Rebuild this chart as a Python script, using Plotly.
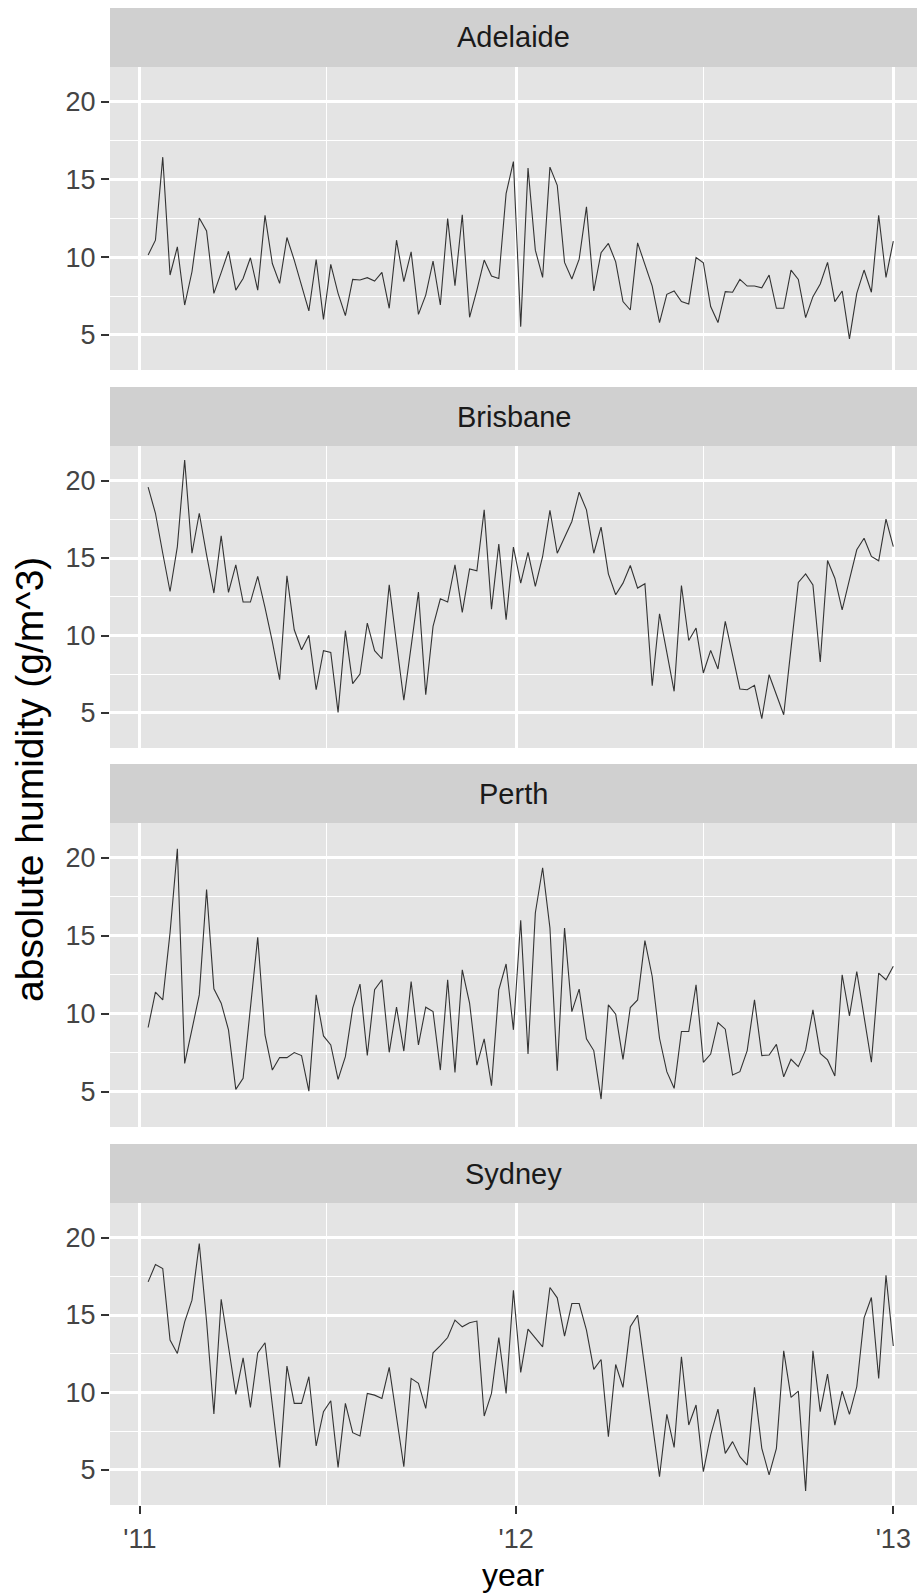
import pandas as pd
import plotly.graph_objects as go

# Weekly absolute humidity (g/m^3), 2011-2012
cities = ["Adelaide", "Brisbane", "Perth", "Sydney"]

adelaide = [10.13, 11.09, 16.43, 8.85, 10.66, 6.92, 9.06, 12.52, 11.69, 7.67,
            9.0, 10.38, 7.88, 8.63, 9.96, 7.88, 12.69, 9.59, 8.31, 11.26,
            9.81, 8.1, 6.54, 9.85, 6.0, 9.53, 7.67, 6.24, 8.57, 8.53,
            8.68, 8.46, 9.02, 6.71, 11.09, 8.42, 10.34, 6.32, 7.56, 9.74,
            6.92, 12.48, 8.16, 12.73, 6.13, 7.88, 9.81, 8.78, 8.63, 14.08,
            16.15, 5.53, 15.73, 10.45, 8.70, 15.79, 14.62, 9.66, 8.59, 9.87,
            13.23, 7.82, 10.28, 10.88, 9.70, 7.14, 6.60, 10.92, 9.55, 8.14,
            5.79, 7.61, 7.82, 7.14, 6.99, 9.98, 9.64, 6.82, 5.79, 7.78,
            7.74, 8.57, 8.14, 8.14, 8.03, 8.85, 6.71, 6.71, 9.17, 8.57,
            6.11, 7.46, 8.27, 9.66, 7.14, 7.82, 4.74, 7.67, 9.17, 7.74,
            12.69, 8.70, 11.03]

brisbane = [19.57, 17.89, 15.31, 12.84, 15.74, 21.33, 15.31, 17.89, 15.2, 12.74,
            16.43, 12.78, 14.56, 12.16, 12.16, 13.81, 11.8, 9.6, 7.15, 13.85,
            10.37, 9.08, 10.01, 6.5, 9.02, 8.91, 5.04, 10.31, 6.89, 7.51,
            10.8, 9.02, 8.5, 13.27, 9.5, 5.82, 9.3, 12.8, 6.18, 10.59,
            12.37, 12.16, 14.56, 11.49, 14.30, 14.18, 18.11, 11.70, 15.90, 11.02,
            15.70, 13.38, 15.36, 13.17, 15.10, 18.07, 15.31, 16.35, 17.36, 19.25,
            18.11, 15.31, 16.99, 13.98, 12.63, 13.38, 14.52, 13.06, 13.34, 6.76,
            11.40, 8.91, 6.40, 13.23, 9.68, 10.48, 7.58, 9.04, 7.84, 10.91,
            8.74, 6.55, 6.50, 6.78, 4.63, 7.47, 6.18, 4.89, 9.17, 13.42,
            13.98, 13.27, 8.29, 14.84, 13.70, 11.66, 13.6, 15.53, 16.28, 15.10,
            14.82, 17.51, 15.74]

perth = [9.12, 11.39, 10.89, 15.2, 20.58, 6.82, 9.0, 11.21, 17.96, 11.60,
         10.68, 8.97, 5.15, 5.86, 10.38, 14.90, 8.64, 6.39, 7.19, 7.19,
         7.51, 7.32, 5.04, 11.21, 8.58, 8.0, 5.79, 7.25, 10.36, 11.90,
         7.32, 11.54, 12.18, 7.53, 10.42, 7.61, 12.07, 8.0, 10.42, 10.14,
         6.39, 12.18, 6.24, 12.82, 10.68, 6.71, 8.39, 5.39, 11.54, 13.19,
         8.97, 15.99, 7.42, 16.46, 19.36, 15.50, 6.35, 15.50, 10.14, 11.58,
         8.39, 7.64, 4.53, 10.57, 9.97, 7.08, 10.40, 10.89, 14.69, 12.39,
         8.43, 6.29, 5.22, 8.86, 8.86, 11.86, 6.89, 7.42, 9.44, 9.01,
         6.07, 6.29, 7.64, 10.89, 7.32, 7.36, 8.04, 5.96, 7.08, 6.61,
         7.68, 10.25, 7.46, 7.04, 6.01, 12.50, 9.86, 12.71, 9.82, 6.89,
         12.61, 12.18, 13.04]

sydney = [17.14, 18.26, 18.0, 13.38, 12.52, 14.56, 15.96, 19.61, 14.6, 8.61,
          16.02, 12.95, 9.88, 12.24, 9.04, 12.56, 13.21, 9.19, 5.17, 11.70,
          9.30, 9.30, 11.02, 6.55, 8.76, 9.47, 5.17, 9.30, 7.41, 7.19,
          9.94, 9.83, 9.62, 11.62, 8.42, 5.21, 10.91, 10.59, 8.97, 12.56,
          13.02, 13.55, 14.67, 14.24, 14.50, 14.61, 8.48, 9.94, 13.55, 9.94,
          16.60, 11.30, 14.09, 13.49, 12.95, 16.78, 16.11, 13.64, 15.74, 15.74,
          14.03, 11.49, 12.13, 7.15, 11.81, 10.33, 14.24, 14.99, 11.55, 8.01,
          4.57, 8.59, 6.46, 12.31, 7.90, 9.19, 4.89, 7.26, 8.93, 6.07,
          6.83, 5.86, 5.32, 10.33, 6.40, 4.68, 6.40, 12.69, 9.68, 10.09,
          3.64, 12.69, 8.76, 11.19, 7.90, 10.09, 8.59, 10.37, 14.82, 16.13,
          10.91, 17.57, 13.0]

series = [adelaide, brisbane, perth, sydney]

# Observation dates: one reading per week over the two years
dates = pd.date_range("2011-01-09", "2013-01-01", periods=len(adelaide))

y_ticks = [5, 10, 15, 20]

# ---- page geometry (pixels) ----
W, H = 918, 1595
LEFT, RIGHT = 110, 917
panel_px = [(67, 370), (446, 748), (823, 1127), (1203, 1505)]
STRIP_H = 59

FONT = "Liberation Sans, Arial, Helvetica, sans-serif"
PANEL_BG = "#E4E4E4"
STRIP_BG = "#D0D0D0"
TICK_COLOR = "#333333"
TICK_FONT = dict(family=FONT, size=27, color="#444444")


def py(px):
    return 1 - px / H


fig = go.Figure()
layout = dict(
    width=W, height=H,
    margin=dict(l=0, r=0, t=0, b=0),
    paper_bgcolor="white",
    plot_bgcolor=PANEL_BG,
    showlegend=False,
    font=dict(family=FONT, size=24, color="#444444"),
    shapes=[], annotations=[],
)

x_range = ["2010-12-03", "2013-01-24"]
y_range = [2.74, 22.23]

for i, (city, vals) in enumerate(zip(cities, series)):
    n = i + 1
    xa = "x" if n == 1 else f"x{n}"
    ya = "y" if n == 1 else f"y{n}"
    fig.add_trace(go.Scatter(
        x=dates, y=vals, mode="lines", xaxis=xa, yaxis=ya,
        line=dict(color="#333333", width=1.1),
        hoverinfo="skip",
    ))
    top, bot = panel_px[i]
    last = n == len(cities)
    layout[f"xaxis{'' if n == 1 else n}"] = dict(
        type="date", range=x_range,
        domain=[LEFT / W, RIGHT / W], anchor=ya,
        tick0="2011-01-01", dtick="M12", tickformat="'%y",
        showgrid=True, gridcolor="white", gridwidth=2.6,
        minor=dict(dtick="M6", tick0="2011-01-01", showgrid=True,
                   gridcolor="white", gridwidth=1.3),
        zeroline=False, showline=False,
        showticklabels=last,
        ticks="outside" if last else "", ticklen=8, tickwidth=2.4,
        tickcolor=TICK_COLOR, ticklabelstandoff=2,
        tickfont=TICK_FONT,
    )
    layout[f"yaxis{'' if n == 1 else n}"] = dict(
        range=y_range, domain=[py(bot), py(top)], anchor=xa,
        tickvals=y_ticks,
        showgrid=True, gridcolor="white", gridwidth=2.6,
        minor=dict(dtick=2.5, tick0=0, showgrid=True,
                   gridcolor="white", gridwidth=1.3),
        zeroline=False, showline=False,
        ticks="outside", ticklen=8, tickwidth=2.4, tickcolor=TICK_COLOR,
        tickfont=TICK_FONT,
    )
    # facet strip with city name
    layout["shapes"].append(dict(
        type="rect", xref="paper", yref="paper", layer="below",
        x0=LEFT / W, x1=RIGHT / W, y0=py(top), y1=py(top - STRIP_H),
        fillcolor=STRIP_BG, line=dict(width=0),
    ))
    layout["annotations"].append(dict(
        text=city, xref="paper", yref="paper", showarrow=False,
        x=(LEFT + RIGHT) / 2 / W, y=py(top - STRIP_H / 2),
        xanchor="center", yanchor="middle",
        font=dict(family=FONT, size=29, color="#1A1A1A"),
    ))

# axis titles
layout["annotations"].append(dict(
    text="absolute humidity (g/m^3)", xref="paper", yref="paper",
    showarrow=False, x=29 / W, y=py(780), xanchor="center", yanchor="middle",
    textangle=-90, font=dict(family=FONT, size=39, color="black"),
))
layout["annotations"].append(dict(
    text="year", xref="paper", yref="paper",
    showarrow=False, x=(LEFT + RIGHT) / 2 / W, y=0,
    xanchor="center", yanchor="bottom",
    font=dict(family=FONT, size=32, color="black"),
))

fig.update_layout(**layout)
fig.write_html("out.html")
